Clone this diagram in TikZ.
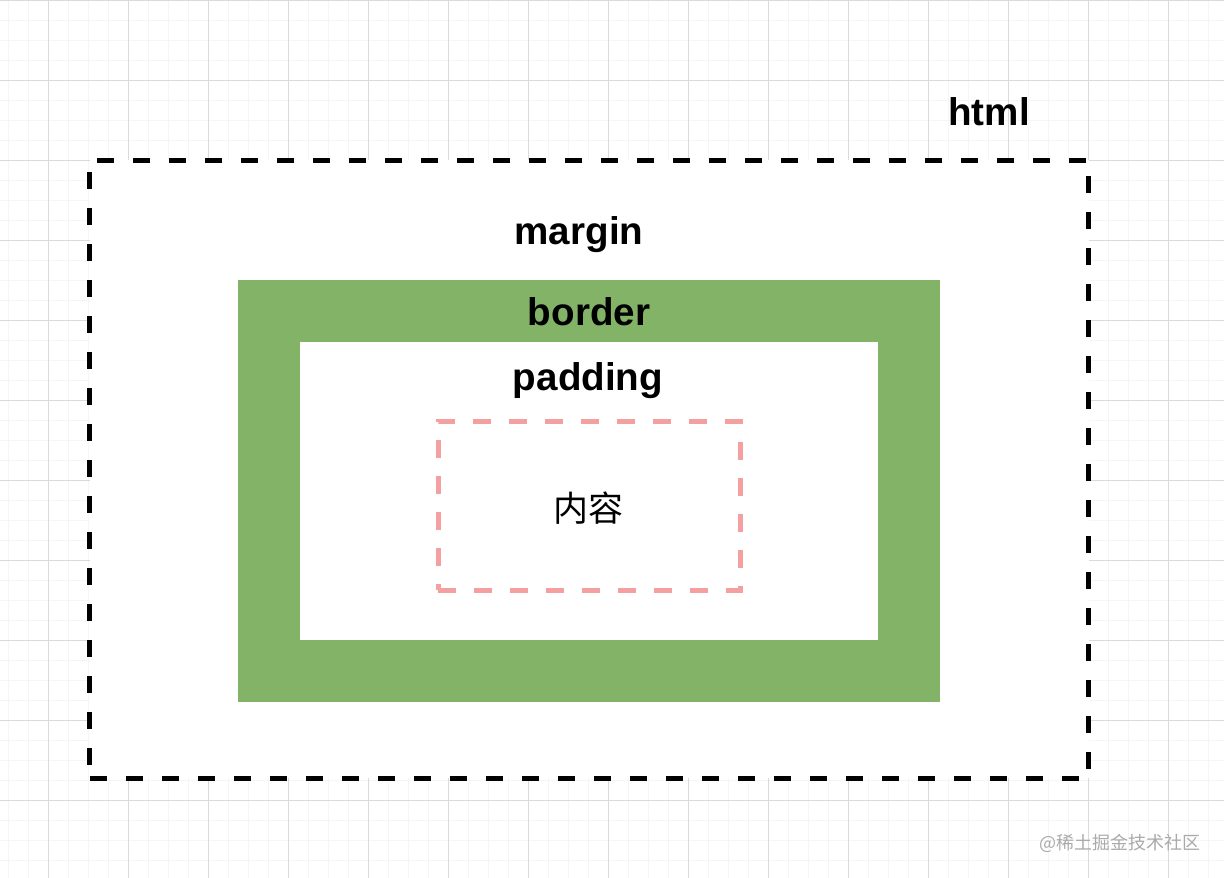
\documentclass[tikz,border=0pt]{standalone}
\usepackage{fontspec}
\setmainfont{Liberation Sans}
\newfontfamily\cjk{Noto Sans CJK SC}
\definecolor{gridmajor}{RGB}{218,218,218}
\definecolor{gridminor}{RGB}{245,245,245}
\definecolor{greenfill}{RGB}{130,179,102}
\definecolor{pinkline}{RGB}{244,160,160}
\definecolor{wmgray}{RGB}{170,170,170}
\tikzset{
  label/.style={font=\bfseries\fontsize{38.6}{44}\selectfont, anchor=base, inner sep=0pt},
}
\begin{document}
\begin{tikzpicture}[x=1pt,y=-1pt]
\useasboundingbox (0,0) rectangle (1224,878);
\fill[white] (0,0) rectangle (1224,878);
% minor grid
\foreach \gx in {8,28,...,1224} \draw[gridminor,line width=1pt] (\gx,0) -- (\gx,878);
\foreach \gy in {0,20,...,878} \draw[gridminor,line width=1pt] (0,\gy) -- (1224,\gy);
% major grid
\foreach \gx in {48,128,...,1224} \draw[gridmajor,line width=1pt] (\gx,0) -- (\gx,878);
\foreach \gy in {0,80,...,878} \draw[gridmajor,line width=1pt] (0,\gy) -- (1224,\gy);
% boxes
\node[draw=black, fill=white, line width=5pt, dash pattern=on 17pt off 19pt,
      minimum width=999pt, minimum height=618pt, inner sep=0pt] (marginbox) at (589,469) {};
\node[fill=greenfill, minimum width=702pt, minimum height=422pt, inner sep=0pt] (borderbox) at (589,491) {};
\node[fill=white, minimum width=578pt, minimum height=298pt, inner sep=0pt] (paddingbox) at (589,491) {};
\node[draw=pinkline, line width=5pt, dash pattern=on 18pt off 18pt,
      minimum width=302pt, minimum height=169pt, inner sep=0pt] (contentbox) at (589,505.5) {};
% labels
\node[label] (htmllabel) at (989,125) {html};
\node[label] (marginlabel) at (579,244) {margin};
\node[label] (borderlabel) at (589,325) {border};
\node[label] (paddinglabel) at (588,390) {padding};
\node[font=\cjk\fontsize{35}{40}\selectfont, inner sep=0pt] (contentlabel) at (588,508) {内容};
\node[font=\cjk\fontsize{18}{22}\selectfont, text=wmgray, inner sep=0pt] (watermark) at (1120,843) {@稀土掘金技术社区};
\end{tikzpicture}
\end{document}
